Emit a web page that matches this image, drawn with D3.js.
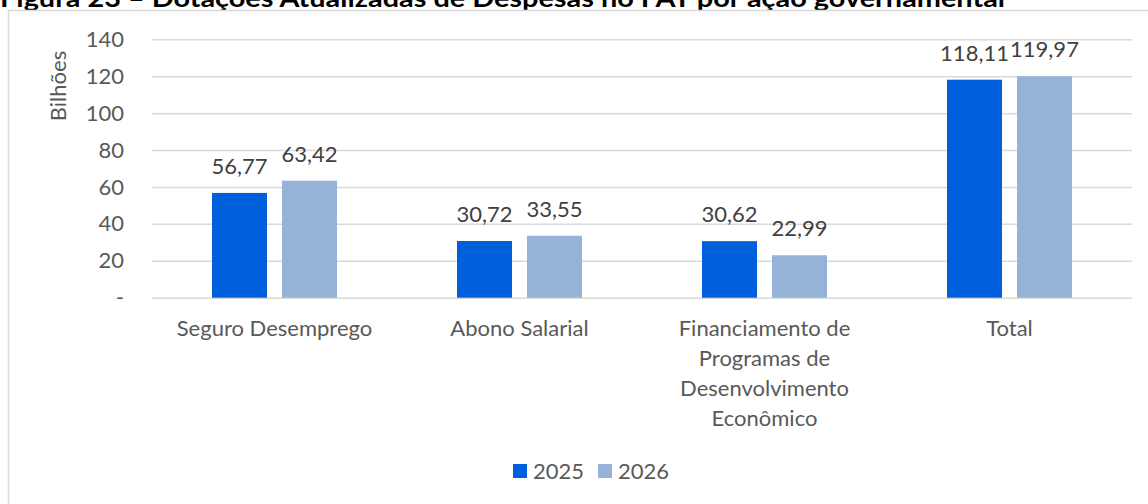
<!DOCTYPE html>
<html>
<head>
<meta charset="utf-8">
<title>FAT</title>
<script src="https://d3js.org/d3.v7.min.js"></script>
<style>
  body { margin: 0; background: #fff; }
  svg { display: block; font-family: Lato, "Open Sans", sans-serif; }
</style>
</head>
<body>
<svg width="1148" height="504"></svg>
<script>
var categories = [["Seguro Desemprego"], ["Abono Salarial"],
                  ["Financiamento de", "Programas de", "Desenvolvimento", "Econômico"], ["Total"]];
var series = ["2025", "2026"];
var values2025 = [56.77, 30.72, 30.62, 118.11];
var values2026 = [63.42, 33.55, 22.99, 119.97];
var yTicks = [0, 20, 40, 60, 80, 100, 120, 140];
var colors = ["#005fdb", "#95b3d7"];

var svg = d3.select("svg");
var plotL = 152, plotR = 1132, plotT = 39.3, plotB = 297.7;
var fs = 22;

// clipped title from the page above
svg.append("text")
  .attr("x", 0).attr("y", 6.5)
  .attr("font-weight", "bold").attr("font-size", 25)
  .attr("fill", "#000")
  .attr("textLength", 1005).attr("lengthAdjust", "spacingAndGlyphs")
  .text("Figura 23 – Dotações Atualizadas de Despesas no FAT por ação governamental");

svg.append("rect").attr("x", 0).attr("y", 10).attr("width", 1148).attr("height", 494).attr("fill", "#fff");
svg.append("path").attr("d", "M8.5,600V10.5H1160")
  .attr("fill", "none").attr("stroke", "#d9d9d9").attr("stroke-width", 1.5);

var x = d3.scaleBand().domain(d3.range(categories.length)).range([plotL, plotR]);
var y = d3.scaleLinear().domain([0, 140]).range([plotB, plotT]);
var barW = 55, gap = 15;

var yAxis = svg.append("g").attr("transform", "translate(" + plotL + ",0)")
  .call(d3.axisLeft(y).tickValues(yTicks).tickSize(-(plotR - plotL))
        .tickFormat(function(d) { return d === 0 ? "-" : d; }).tickPadding(28));
yAxis.select(".domain").remove();
yAxis.selectAll("line").attr("stroke", "#d9d9d9").attr("stroke-width", 1.5);
yAxis.selectAll("text").attr("fill", "#595959").attr("font-size", fs)
  .attr("font-family", "Lato, sans-serif");

svg.append("text")
  .attr("transform", "translate(66,86) rotate(-90)")
  .attr("text-anchor", "middle").attr("font-size", fs).attr("fill", "#595959")
  .text("Bilhões");

var groups = svg.selectAll(".grp").data(categories).enter().append("g")
  .attr("transform", function(d, i) { return "translate(" + (x(i) + x.bandwidth() / 2) + ",0)"; });

series.forEach(function(s, k) {
  var vals = k === 0 ? values2025 : values2026;
  var off = k === 0 ? -(gap / 2 + barW) : gap / 2;
  groups.append("rect")
    .attr("x", off).attr("width", barW)
    .attr("y", function(d, i) { return y(vals[i]); })
    .attr("height", function(d, i) { return plotB - y(vals[i]); })
    .attr("fill", colors[k]);
  groups.append("text")
    .attr("x", off + barW / 2)
    .attr("y", function(d, i) { return y(vals[i]) - 19; })
    .attr("text-anchor", "middle").attr("font-size", fs).attr("fill", "#404040")
    .text(function(d, i) { return d3.format(".2f")(vals[i]).replace(".", ","); });
});

groups.append("text")
  .attr("text-anchor", "middle").attr("font-size", fs).attr("fill", "#595959")
  .selectAll("tspan").data(function(d) { return d; }).enter().append("tspan")
  .attr("x", 0).attr("y", function(d, i) { return 336 + i * 30; })
  .text(function(d) { return d; });

var legend = svg.append("g");
var lx = [513, 598];
series.forEach(function(s, k) {
  legend.append("rect").attr("x", lx[k]).attr("y", 464).attr("width", 14).attr("height", 14).attr("fill", colors[k]);
  legend.append("text").attr("x", lx[k] + 20).attr("y", 479).attr("font-size", fs).attr("fill", "#595959").text(s);
});
</script>
</body>
</html>
